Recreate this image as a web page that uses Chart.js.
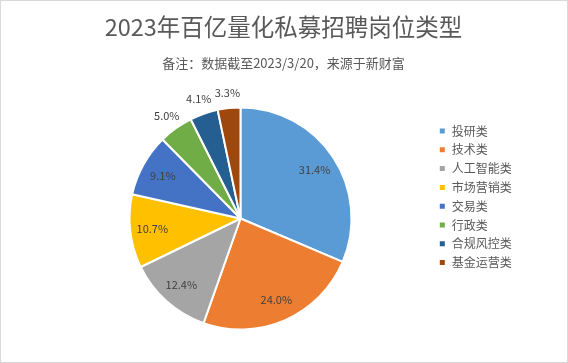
<!DOCTYPE html>
<html>
<head>
<meta charset="utf-8">
<script src="https://cdn.jsdelivr.net/npm/chart.js@4.4.0/dist/chart.umd.min.js"></script>
<style>
  html, body { margin: 0; padding: 0; background: #fff; }
  #wrap { width: 568px; height: 363px; box-sizing: border-box; border: 1px solid #d9d9d9; }
  canvas { display: block; }
</style>
</head>
<body>
<div id="wrap"><canvas id="jobChart" width="566" height="361"></canvas></div>
<script>
// 招聘岗位类型及占比 (%)
const categories = ['投研类', '技术类', '人工智能类', '市场营销类', '交易类', '行政类', '合规风控类', '基金运营类'];
const shares = [31.4, 24.0, 12.4, 10.7, 9.1, 5.0, 4.1, 3.3];
const sliceColors = ['#5B9BD5', '#ED7D31', '#A5A5A5', '#FFC000', '#4472C4', '#70AD47', '#255E91', '#9E480E'];

const FONT = "'Noto Sans CJK SC', 'Noto Sans', sans-serif";
Chart.defaults.font.family = FONT;

// percentage labels: inside for big slices, outside for the small ones
const sliceLabels = {
    id: 'sliceLabels',
    afterDatasetsDraw(chart) {
        const ctx = chart.ctx;
        const meta = chart.getDatasetMeta(0);
        ctx.save();
        ctx.font = '11px ' + FONT;
        ctx.fillStyle = '#404040';
        ctx.textAlign = 'center';
        ctx.textBaseline = 'middle';
        meta.data.forEach((arc, i) => {
            const p = arc.getProps(['x', 'y', 'startAngle', 'endAngle', 'outerRadius'], true);
            const mid = (p.startAngle + p.endAngle) / 2;
            const k = shares[i] < 6 ? 1.14 : 0.8;
            const lx = p.x + Math.cos(mid) * p.outerRadius * k;
            const ly = p.y + Math.sin(mid) * p.outerRadius * k;
            ctx.fillText(shares[i].toFixed(1) + '%', lx, ly);
        });
        ctx.restore();
    }
};

const canvas = document.getElementById('jobChart');
new Chart(canvas.getContext('2d'), {
    type: 'pie',
    data: {
        labels: categories,
        datasets: [{
            data: shares,
            backgroundColor: sliceColors,
            borderColor: '#ffffff',
            borderWidth: 2,
            hoverOffset: 0
        }]
    },
    options: {
        responsive: false,
        animation: false,
        events: [],
        layout: { padding: { left: 48, right: 49, top: 0, bottom: 31.5 } },
        plugins: {
            title: {
                display: true,
                text: '2023年百亿量化私募招聘岗位类型',
                color: '#595959',
                font: { size: 23.5, weight: 'normal', lineHeight: 1.2 },
                padding: { top: 12.4, bottom: 0 }
            },
            subtitle: {
                display: true,
                text: '备注：数据截至2023/3/20，来源于新财富',
                color: '#595959',
                font: { size: 13, weight: 'normal', lineHeight: 1.2 },
                padding: { top: 13.6, bottom: 35.7 }
            },
            legend: {
                position: 'right',
                align: 'start',
                fullSize: false,
                maxWidth: 86,
                title: { display: true, text: '', font: { size: 11.7, lineHeight: 1 }, padding: 0 },
                labels: {
                    boxWidth: 7,
                    boxHeight: 7,
                    padding: 6.8,
                    color: '#595959',
                    font: { size: 12 }
                }
            },
            tooltip: { enabled: false }
        }
    },
    plugins: [sliceLabels]
});
</script>
</body>
</html>
